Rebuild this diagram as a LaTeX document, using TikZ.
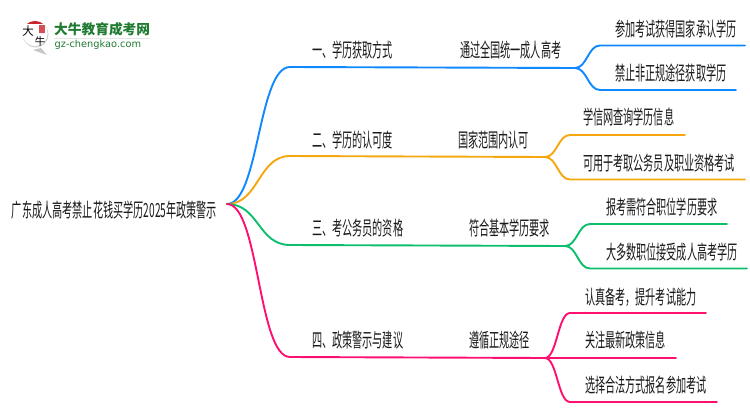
\documentclass[tikz,border=0pt]{standalone}
\usepackage{fontspec}
\newfontfamily\cjk[FakeStretch=0.52]{Noto Sans CJK SC}
\newfontfamily\cjklogo{Noto Sans CJK SC}
\newfontfamily\latinlogo{DejaVu Sans}
\definecolor{cblue}{HTML}{1088FF}
\definecolor{corange}{HTML}{F5A70F}
\definecolor{cgreen}{HTML}{0DBE6C}
\definecolor{cpink}{HTML}{FF1070}
\definecolor{logogreen}{HTML}{1F7A32}
\definecolor{logored}{HTML}{C8242B}
\tikzset{
  label/.style={anchor=west,inner sep=0pt,outer sep=0pt,text=black!90,font=\cjk\fontsize{19.5}{21}\selectfont},
  wire/.style={line width=1.9pt,line cap=round,line join=round},
  trunk/.style={out=0,in=180,distance=32pt},
  twig/.style={out=0,in=180,distance=12pt}
}
\begin{document}
\begin{tikzpicture}[x=1pt,y=-1pt]
\useasboundingbox (0,0) rectangle (750,410);
% logo
\fill[black!22] (33,50) -- (47,55) -- (41,48) -- cycle;
\fill[black!18] (35.5,34.5) circle (13);
\fill[white] (35,33.5) circle (12.6);
\begin{scope}
\clip (35,33.5) circle (12.6);
\fill[logored] (20,19) rectangle (50,23.5);
\end{scope}
\fill[logored!80] (39,25) rectangle (45,33);
\node[inner sep=0pt,text=black] (logoa) at (28,31.5) {\cjklogo\fontsize{11.5}{12}\selectfont 大};
\node[inner sep=0pt,text=black] (logob) at (40,42) {\cjklogo\fontsize{10.5}{11}\selectfont 牛};
\node[anchor=west,inner sep=0pt,text=logogreen] (logot) at (54,29.5) {\cjklogo\bfseries\fontsize{13.7}{14}\selectfont 大牛教育成考网};
\fill[black!10] (54,38) rectangle (150,39);
\node[anchor=west,inner sep=0pt,text=logogreen] (logou) at (54.5,45) {\latinlogo\fontsize{9.8}{10}\selectfont gz-chengkao.com};
% labels
\node[label] (root) at (12,210) {广东成人高考禁止花钱买学历2025年政策警示};
\node[label] (n1) at (312,50) {一、学历获取方式};
\node[label] (n2) at (312,140) {二、学历的认可度};
\node[label] (n3) at (312,228) {三、考公务员的资格};
\node[label] (n4) at (312,340) {四、政策警示与建议};
\node[label] (m1) at (460,50) {通过全国统一成人高考};
\node[label] (m2) at (458,140) {国家范围内认可};
\node[label] (m3) at (469,228) {符合基本学历要求};
\node[label] (m4) at (469,340) {遵循正规途径};
\node[label] (l11) at (615,29) {参加考试获得国家承认学历};
\node[label] (l12) at (615,73) {禁止非正规途径获取学历};
\node[label] (l21) at (583,117) {学信网查询学历信息};
\node[label] (l22) at (583,163) {可用于考取公务员及职业资格考试};
\node[label] (l31) at (606,207) {报考需符合职位学历要求};
\node[label] (l32) at (606,252) {大多数职位接受成人高考学历};
\node[label] (l41) at (585,297) {认真备考，提升考试能力};
\node[label] (l42) at (585,340) {关注最新政策信息};
\node[label] (l43) at (585,385) {选择合法方式报名参加考试};
% junctions
\coordinate (o) at (227,204);
\coordinate (b1) at (290,67); \coordinate (f1) at (575,68);
\coordinate (b2) at (290,156); \coordinate (f2) at (545,157);
\coordinate (b3) at (290,245); \coordinate (f3) at (565,246);
\coordinate (b4) at (290,357); \coordinate (f4) at (545,358);
\coordinate (s11) at (600,45.5); \coordinate (e11) at (745,45.5);
\coordinate (s12) at (600,90); \coordinate (e12) at (736,90);
\coordinate (s21) at (570,135); \coordinate (e21) at (685,135);
\coordinate (s22) at (570,179.5); \coordinate (e22) at (745,179.5);
\coordinate (s31) at (590,224); \coordinate (e31) at (727,224);
\coordinate (s32) at (590,268.5); \coordinate (e32) at (747,268.5);
\coordinate (s41) at (570,313); \coordinate (e41) at (706,313);
\coordinate (e42) at (676,358);
\coordinate (s43) at (570,402); \coordinate (e43) at (717,402);
% connectors
\draw[wire,cblue] (o) to[trunk] (b1) -- (f1);
\draw[wire,cblue] (f1) to[twig] (s11) -- (e11);
\draw[wire,cblue] (f1) to[twig] (s12) -- (e12);
\draw[wire,corange] (o) to[trunk] (b2) -- (f2);
\draw[wire,corange] (f2) to[twig] (s21) -- (e21);
\draw[wire,corange] (f2) to[twig] (s22) -- (e22);
\draw[wire,cgreen] (o) to[trunk] (b3) -- (f3);
\draw[wire,cgreen] (f3) to[twig] (s31) -- (e31);
\draw[wire,cgreen] (f3) to[twig] (s32) -- (e32);
\draw[wire,cpink] (o) to[trunk] (b4) -- (f4);
\draw[wire,cpink] (f4) to[twig] (s41) -- (e41);
\draw[wire,cpink] (f4) -- (e42);
\draw[wire,cpink] (f4) to[twig] (s43) -- (e43);
\end{tikzpicture}
\end{document}
